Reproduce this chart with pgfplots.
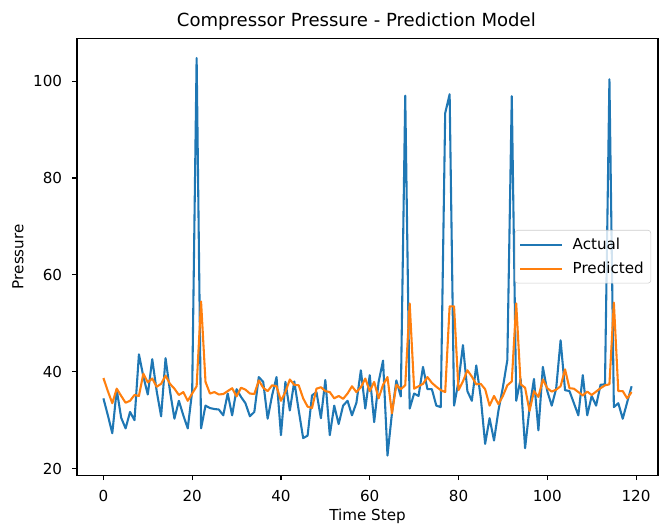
\documentclass[border=0pt]{standalone}
\usepackage{fontspec}
\setmainfont{DejaVu Sans}
\usepackage{pgfplots}
\usepackage{pgfplotstable}
\pgfplotsset{compat=1.18}
\usetikzlibrary{calc}
\definecolor{mplblue}{HTML}{1F77B4}
\definecolor{mplorange}{HTML}{FF7F0E}

% time step, actual pressure, predicted pressure
\pgfplotstableread{
t actual predicted
0 34.5 38.7
1 31.0 36.0
2 27.3 33.5
3 36.3 36.5
4 30.5 35.0
5 28.3 33.6
6 31.7 34.0
7 30.0 35.2
8 43.6 35.0
9 39.0 39.6
10 35.3 37.8
11 42.6 38.6
12 36.0 36.9
13 30.8 37.5
14 42.8 39.2
15 36.0 37.5
16 30.3 36.5
17 34.0 35.2
18 31.0 35.8
19 28.3 34.0
20 36.0 35.5
21 104.8 37.0
22 28.3 54.5
23 33.0 37.9
24 32.5 35.5
25 32.3 35.8
26 32.2 35.3
27 31.0 35.4
28 35.5 36.0
29 31.0 36.6
30 36.4 34.9
31 34.8 36.7
32 33.5 36.3
33 30.8 35.5
34 31.7 35.4
35 38.9 38.2
36 37.9 36.7
37 30.3 36.0
38 35.1 37.2
39 38.9 37.0
40 26.9 34.0
41 37.9 35.8
42 32.0 38.4
43 38.0 37.3
44 32.0 37.2
45 26.3 34.5
46 26.8 32.8
47 35.1 32.5
48 35.8 36.5
49 30.4 36.8
50 38.3 36.0
51 26.9 35.8
52 33.0 34.5
53 29.2 35.0
54 33.0 34.4
55 34.0 35.5
56 31.0 37.0
57 33.6 35.8
58 40.3 36.8
59 32.4 38.6
60 39.3 36.0
61 29.6 37.9
62 37.9 34.5
63 42.3 37.3
64 22.7 38.9
65 31.4 31.4
66 38.2 37.3
67 34.9 36.4
68 97.0 37.2
69 32.4 54.1
70 35.5 36.5
71 35.0 37.0
72 41.0 37.5
73 36.4 38.9
74 36.4 37.7
75 33.0 36.9
76 32.7 36.2
77 93.4 35.8
78 97.3 53.5
79 33.0 53.5
80 38.0 36.2
81 45.5 38.0
82 36.0 40.3
83 34.0 39.0
84 41.3 37.4
85 34.8 37.5
86 25.1 36.4
87 30.4 33.0
88 25.8 35.0
89 32.0 33.3
90 36.8 35.0
91 42.4 37.2
92 96.9 38.0
93 34.0 54.1
94 38.5 37.4
95 24.2 36.7
96 32.5 31.9
97 38.5 36.0
98 27.9 34.8
99 41.0 38.4
100 36.0 36.6
101 33.0 35.9
102 36.5 36.3
103 46.5 37.0
104 36.2 40.5
105 36.0 36.6
106 33.5 36.5
107 31.0 35.8
108 39.3 35.1
109 31.0 35.9
110 35.0 35.2
111 33.0 35.9
112 37.3 36.6
113 37.4 37.2
114 100.4 37.4
115 32.7 54.3
116 33.5 36.0
117 30.3 36.0
118 33.7 34.5
119 37.0 35.8
}\pressure

\begin{document}
\begin{tikzpicture}
\begin{axis}[
  name=ax,
  scale only axis,
  width=418pt, height=314.6pt,
  xmin=-5.95, xmax=124.95,
  ymin=18.6, ymax=108.9,
  xtick={0,20,...,120},
  ytick={20,40,...,100},
  tick pos=lower,
  tick align=outside,
  major tick length=3.5pt,
  every tick/.style={black, line width=0.8pt},
  axis line style={line width=0.8pt},
  /pgf/number format/assume math mode=true,
  ticklabel style={font=\fontsize{10.9}{13}\selectfont},
  xticklabel style={anchor=north, inner sep=0pt, yshift=-7pt},
  yticklabel style={anchor=east, inner sep=0pt, xshift=-7pt},
  title={Compressor Pressure - Prediction Model},
  title style={font=\fontsize{13}{15.6}\selectfont, at={(0.5,1)}, anchor=base, yshift=2.5pt, xshift=-8pt},
  xlabel={Time Step},
  xlabel style={font=\fontsize{10.9}{13}\selectfont, at={(axis description cs:0.5,0)}, anchor=base, yshift=-32.4pt},
  legend style={at={(1,0.5)}, anchor=east, xshift=-5pt,
    draw=black!20, fill=white, fill opacity=0.8, text opacity=1,
    rounded corners=2pt, font=\fontsize{10.9}{13}\selectfont,
    inner xsep=3pt, inner ysep=3.5pt, row sep=3.5pt},
  legend cell align=left,
  legend image code/.code={\draw[#1] (0pt,0pt) -- (30pt,0pt); \path (35pt,0pt);},
]
\addplot[mplblue, line width=1.5pt, line join=round] table[x=t, y=actual] {\pressure};
\addlegendentry{Actual}
\addplot[mplorange, line width=1.5pt, line join=round] table[x=t, y=predicted] {\pressure};
\addlegendentry{Predicted}
\end{axis}
\node[rotate=90, anchor=base, font=\fontsize{10.9}{13}\selectfont] at ($(ax.west)+(-38.5pt,0)$) {Pressure};
\pgfresetboundingbox
\path[use as bounding box] ($(ax.south west)+(-55.4pt,-36pt)$) rectangle ($(ax.north east)+(0.7pt,27.4pt)$);
\end{tikzpicture}
\end{document}
